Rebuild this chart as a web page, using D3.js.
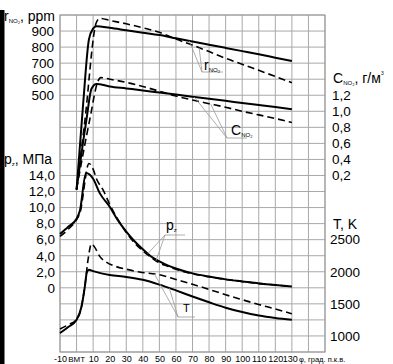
<!DOCTYPE html>
<html>
<head>
<meta charset="utf-8">
<script src="https://cdn.jsdelivr.net/npm/d3@7"></script>
<style>
body { margin: 0; background: #fff; }
svg { display: block; font-family: "Liberation Sans", Arial, sans-serif; }
</style>
</head>
<body>
<div id="chart"></div>
<script>
// crank angle ticks
const degTicks = [-10, 0, 10, 20, 30, 40, 50, 60, 70, 80, 90, 100, 110, 120, 130];
const degLabels = ["-10", "ВМТ", "10", "20", "30", "40", "50", "60", "70", "80", "90", "100", "110", "120", "130"];
const ppmTicks = [900, 800, 700, 600, 500];
const cTicks = [1.2, 1.0, 0.8, 0.6, 0.4, 0.2];
const pTicks = [14, 12, 10, 8, 6, 4, 2, 0];
const tTicks = [2500, 2000, 1500, 1000];

// r_NO2, ppm  [deg, value]
const rSolid = [[0, -90], [4, 450], [7.5, 850], [10, 915], [12, 930], [20, 920], [30, 905], [40, 890], [50, 875],
    [60, 855], [70, 835], [80, 815], [90, 795], [100, 775], [110, 755], [120, 734], [130, 713]];
const rDashed = [[0, -90], [5, 340], [12, 955], [14.2, 979], [20, 966], [30, 945], [40, 920], [50, 892],
    [60, 850], [70, 812], [80, 772], [90, 730], [100, 693], [110, 655], [120, 617], [130, 578]];

// C_NO2, g/m3
const cSolid = [[0, 0.03], [6, 0.90], [9, 1.28], [12, 1.34], [20, 1.31], [30, 1.285], [40, 1.26], [50, 1.234],
    [60, 1.208], [70, 1.182], [80, 1.156], [90, 1.13], [100, 1.104], [110, 1.078], [120, 1.052], [130, 1.026]];
const cDashed = [[0, 0.03], [8, 0.90], [13, 1.38], [14.5, 1.42], [20, 1.40], [30, 1.36], [40, 1.31], [50, 1.25],
    [60, 1.19], [70, 1.14], [80, 1.095], [90, 1.05], [100, 1.0], [110, 0.955], [120, 0.91], [130, 0.86]];

// p_z, MPa
const pSolid = [[-10, 6.7], [-5, 7.6], [0, 8.6], [2, 9.6], [5.7, 14.3], [10, 13.6], [14, 11.8], [20, 10.1],
    [25, 8.4], [30, 7.0], [35, 5.8], [40, 4.8], [45, 3.9], [50, 3.3], [55, 2.8], [60, 2.4], [70, 1.8],
    [80, 1.4], [90, 1.05], [100, 0.8], [110, 0.55], [120, 0.35], [130, 0.15]];
const pDashed = [[-10, 6.4], [-5, 7.3], [0, 8.5], [2, 9.3], [7.5, 15.5], [10, 14.8], [12, 13.6], [16, 12.2],
    [20, 10.4], [25, 8.5], [30, 6.9], [35, 5.6], [40, 4.6], [45, 3.8], [50, 3.1], [55, 2.7], [60, 2.3],
    [70, 1.75], [80, 1.38], [90, 1.04], [100, 0.79], [110, 0.55], [120, 0.35], [130, 0.15]];

// T, K
const tSolid = [[-10, 1045], [-5, 1140], [0, 1252], [3, 1460], [5, 1770], [6.2, 1990], [7.5, 2030], [10, 2010],
    [15, 1975], [20, 1950], [30, 1920], [40, 1875], [50, 1800], [60, 1710], [70, 1615], [80, 1525],
    [90, 1440], [100, 1372], [110, 1318], [120, 1280], [130, 1252]];
const tDashed = [[-10, 1108], [-5, 1175], [0, 1252], [3, 1460], [5, 1770], [7, 2200], [9, 2436], [11, 2380],
    [14, 2240], [18, 2150], [24, 2080], [30, 2040], [38, 1995], [50, 1955], [60, 1880], [70, 1805],
    [80, 1725], [90, 1642], [100, 1565], [110, 1490], [120, 1420], [130, 1346]];

const W = 393, H = 364;
const gLeft = 60, gRight = 325, gTop = 15, gBottom = 352;

const x = d3.scaleLinear([-10, 150], [gLeft, gRight]);
const yRow = d3.scaleLinear([0, 21], [gTop, gBottom]);
const yPpm = d3.scaleLinear([1000, 0], [yRow(0), yRow(10)]);
const yC = d3.scaleLinear([1.2, 0], [yRow(5), yRow(11)]);
const yP = d3.scaleLinear([16, 0], [yRow(9), yRow(17)]);
const yT = d3.scaleLinear([2500, 1000], [yRow(14), yRow(20)]);

const svg = d3.select("#chart").append("svg")
    .attr("width", W)
    .attr("height", H);

svg.append("rect").attr("width", W).attr("height", H).attr("fill", "#fff");

// grid
svg.append("g")
    .selectAll("line")
    .data(d3.range(-10, 151, 10))
    .enter()
    .append("line")
    .attr("x1", d => x(d)).attr("x2", d => x(d))
    .attr("y1", gTop).attr("y2", gBottom)
    .attr("stroke", "#a8a8a8").attr("stroke-width", 1);

svg.append("g")
    .selectAll("line")
    .data(d3.range(0, 22))
    .enter()
    .append("line")
    .attr("y1", d => yRow(d)).attr("y2", d => yRow(d))
    .attr("x1", gLeft).attr("x2", gRight)
    .attr("stroke", "#a8a8a8").attr("stroke-width", 1);

svg.append("rect")
    .attr("x", gLeft).attr("y", gTop)
    .attr("width", gRight - gLeft).attr("height", gBottom - gTop)
    .attr("fill", "none").attr("stroke", "#999");

const comma = v => d3.format(".1f")(v).replace(".", ",");

function addAxis(axis, tx) {
    let g = svg.append("g")
        .attr("transform", `translate(${tx}, 0)`)
        .call(axis.tickSize(0).tickPadding(0));
    g.selectAll(".domain").remove();
    g.selectAll("text")
        .attr("fill", "#000")
        .style("font-size", "13.5px")
        .style("font-family", "Liberation Sans, Arial, sans-serif");
    return g;
}

addAxis(d3.axisLeft(yPpm).tickValues(ppmTicks).tickFormat(d => d), 54);
addAxis(d3.axisLeft(yP).tickValues(pTicks).tickFormat(d => d == 0 ? "0" : comma(d)), 55);
addAxis(d3.axisRight(yC).tickValues(cTicks).tickFormat(comma), 332);
addAxis(d3.axisRight(yT).tickValues(tTicks).tickFormat(d => d), 330);

// x axis labels
let xg = svg.append("g")
    .attr("transform", `translate(0, ${gBottom + 10})`)
    .call(d3.axisBottom(x).tickValues(degTicks).tickSize(0).tickPadding(0)
        .tickFormat((d, i) => degLabels[i]));
xg.selectAll(".domain").remove();
xg.selectAll("text")
    .attr("fill", "#000")
    .attr("dy", "0")
    .attr("dx", d => d == 130 ? -2 : (d == 0 ? -0.5 : 0))
    .style("font-size", d => d == 0 ? "8px" : "9px")
    .style("font-family", "Liberation Sans, Arial, sans-serif");

svg.append("text")
    .attr("x", 299).attr("y", gBottom + 10)
    .style("font-size", "7.5px")
    .text("φ, град. п.к.в.");

// axis titles
function subLabel(xPos, yPos, main, sub, rest, sup) {
    let t = svg.append("text")
        .attr("x", xPos).attr("y", yPos)
        .style("font-size", "14px");
    t.append("tspan").text(main);
    t.append("tspan").attr("dy", 2).style("font-size", "6px").text(sub);
    t.append("tspan").attr("dy", -2).text(rest);
    if (sup) {
        t.append("tspan").attr("dy", -8).style("font-size", "5px").text(sup);
    }
    return t;
}

subLabel(4, 21, "r", "NO₂", ", ppm");
subLabel(4, yRow(9) + 5, "p", "z", ", МПа");
subLabel(333, yRow(4) + 4, "C", "NO₂", ", г/м", "3");
svg.append("text")
    .attr("x", 333).attr("y", yRow(13) + 5)
    .style("font-size", "14px")
    .text("T, K");

// curves
function curve(data, yScale, dashed) {
    let line = d3.line()
        .x(d => x(d[0]))
        .y(d => yScale(d[1]))
        .curve(d3.curveMonotoneX);
    svg.append("path")
        .datum(data)
        .attr("d", line)
        .attr("fill", "none")
        .attr("stroke", "#000")
        .attr("stroke-width", dashed ? 1.6 : 2)
        .attr("stroke-dasharray", dashed ? "7,4" : null);
}

curve(rSolid, yPpm, false);
curve(rDashed, yPpm, true);
curve(cSolid, yC, false);
curve(cDashed, yC, true);
curve(pSolid, yP, false);
curve(pDashed, yP, true);
curve(tSolid, yT, false);
curve(tDashed, yT, true);

// leader lines with labels
function valueAt(data, deg) {
    for (let i = 1; i < data.length; i++) {
        if (data[i][0] >= deg) {
            let a = data[i - 1], b = data[i];
            return a[1] + (b[1] - a[1]) * (deg - a[0]) / (b[0] - a[0]);
        }
    }
    return data[data.length - 1][1];
}

function leader(x0, y0, len, targets) {
    svg.append("line")
        .attr("x1", x0).attr("x2", x0 + len)
        .attr("y1", y0).attr("y2", y0)
        .attr("stroke", "#999").attr("stroke-width", 0.8);
    for (let t of targets) {
        svg.append("line")
            .attr("x1", x0).attr("y1", y0)
            .attr("x2", x(t.deg)).attr("y2", t.scale(valueAt(t.data, t.deg)))
            .attr("stroke", "#999").attr("stroke-width", 0.8);
    }
}

leader(202, 72, 21, [{ data: rSolid, scale: yPpm, deg: 68 }, { data: rDashed, scale: yPpm, deg: 74 }]);
subLabel(204, 70, "r", "NO₂", "");
leader(227, 138, 20, [{ data: cSolid, scale: yC, deg: 71 }, { data: cDashed, scale: yC, deg: 81 }]);
subLabel(231, 135, "C", "NO₂", "");
leader(165, 235, 20, [{ data: pSolid, scale: yP, deg: 43 }, { data: pDashed, scale: yP, deg: 48 }]);
subLabel(166, 230, "p", "z", "");
leader(178, 317, 17, [{ data: tDashed, scale: yT, deg: 47 }, { data: tSolid, scale: yT, deg: 56 }]);
svg.append("text")
    .attr("x", 183).attr("y", 312)
    .style("font-size", "11px")
    .text("T");

// dark strip at the left edge of the scan
svg.append("rect")
    .attr("x", 0).attr("y", 10)
    .attr("width", 4.5).attr("height", H - 10)
    .attr("fill", "#000");
</script>
</body>
</html>
